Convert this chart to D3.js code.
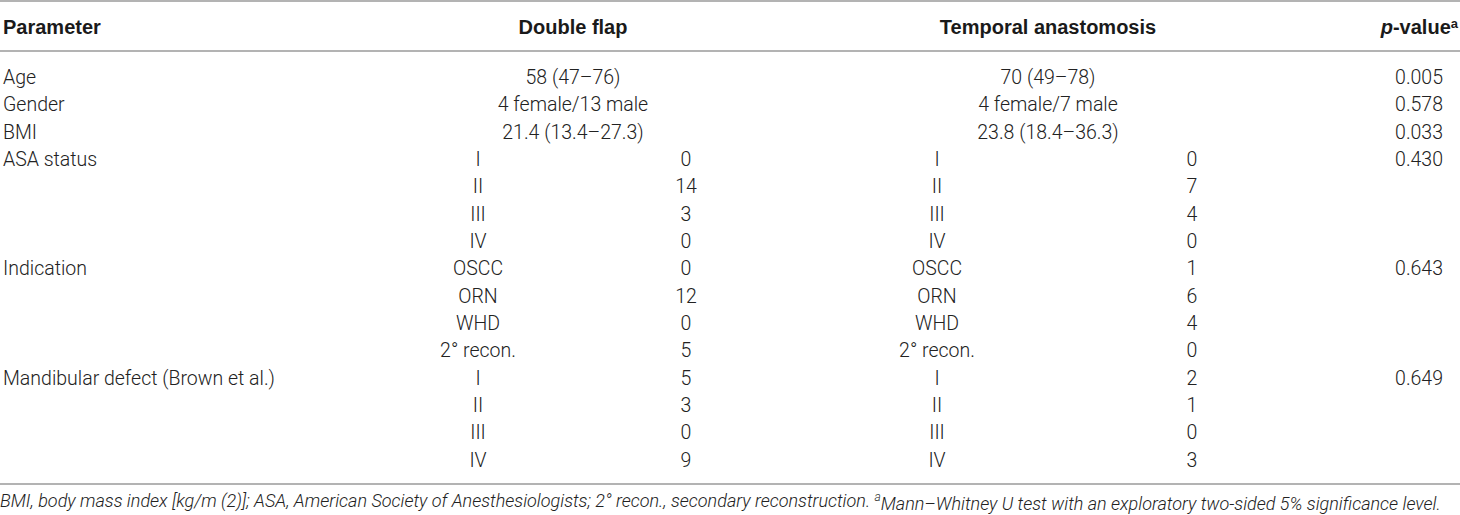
<!DOCTYPE html>
<html>
<head>
<meta charset="utf-8">
<script src="https://cdn.jsdelivr.net/npm/d3@7"></script>
<style>
  body { margin: 0; background: #fff; }
  svg { display: block; }
  text { font-family: Roboto, "Liberation Sans", Arial, sans-serif; fill: #222; }
  .head text { font-family: "Liberation Sans", Arial, sans-serif; fill: #1a1a1a; }
</style>
</head>
<body>
<div id="table"></div>
<script>
// table values
var headers = ["Parameter", "Double flap", "Temporal anastomosis"];
var summaryParams = ["Age", "Gender", "BMI"];
var summaryDoubleFlap = ["58 (47–76)", "4 female/13 male", "21.4 (13.4–27.3)"];
var summaryTemporal = ["70 (49–78)", "4 female/7 male", "23.8 (18.4–36.3)"];
var summaryP = ["0.005", "0.578", "0.033"];

var groupParams = ["ASA status", "Indication", "Mandibular defect (Brown et al.)"];
var groupLevels = [
   ["I", "II", "III", "IV"],
   ["OSCC", "ORN", "WHD", "2° recon."],
   ["I", "II", "III", "IV"]
];
var doubleFlapCounts = [[0, 14, 3, 0], [0, 12, 0, 5], [5, 3, 0, 9]];
var temporalCounts = [[0, 7, 4, 0], [1, 6, 4, 0], [2, 1, 0, 3]];
var groupP = ["0.430", "0.643", "0.649"];

var footnoteA = "BMI, body mass index [kg/m (2)]; ASA, American Society of Anesthesiologists; 2° recon., secondary reconstruction. ";
var footnoteB = "Mann–Whitney U test with an exploratory two-sided 5% significance level.";

var width = 1460, height = 515;
var fontSize = 19.5;

// column anchors
var col = {
   param: 3,
   dfMid: 573, dfSub: 478, dfNum: 686,
   taMid: 1048, taSub: 937, taNum: 1192,
   p: 1443
};

//flatten everything into table rows
var rows = [];
summaryParams.forEach(function (p, i) {
   rows.push({param: p, df: summaryDoubleFlap[i], ta: summaryTemporal[i], p: summaryP[i]});
});
groupParams.forEach(function (p, g) {
   groupLevels[g].forEach(function (lvl, k) {
      rows.push({
         param: k === 0 ? p : "",
         dfSub: lvl, dfNum: doubleFlapCounts[g][k],
         taSub: lvl, taNum: temporalCounts[g][k],
         p: k === 0 ? groupP[g] : ""
      });
   });
});

var y = d3.scalePoint()
   .domain(d3.range(rows.length))
   .range([77, 460]);

var svg = d3.select('#table').append('svg')
   .attr('width', width)
   .attr('height', height);

// rules
var rules = [1, 51, 484];
svg.selectAll('line.rule')
   .data(rules)
   .enter()
   .append('line')
   .attr('class', 'rule')
   .attr('x1', 0).attr('x2', width)
   .attr('y1', function (d) { return d; })
   .attr('y2', function (d) { return d; })
   .attr('stroke', '#9a9a9a')
   .attr('stroke-width', 1.5);

// header
var head = svg.append('g')
   .attr('class', 'head')
   .attr('font-size', '20px')
   .attr('font-weight', 'bold');
head.append('text').attr('x', col.param).attr('y', 27).attr('dy', '0.35em').text(headers[0]);
head.append('text').attr('x', col.dfMid).attr('y', 27).attr('dy', '0.35em')
   .attr('text-anchor', 'middle').text(headers[1]);
head.append('text').attr('x', col.taMid).attr('y', 27).attr('dy', '0.35em')
   .attr('text-anchor', 'middle').text(headers[2]);
var ph = head.append('text').attr('x', col.p + 15).attr('y', 27).attr('dy', '0.35em')
   .attr('text-anchor', 'end');
ph.append('tspan').attr('font-style', 'italic').text('p');
ph.append('tspan').text('-value');
ph.append('tspan').attr('font-size', '13px').attr('dy', '-0.5em').text('a');

// body
var body = svg.append('g').attr('font-size', fontSize + 'px').attr('font-weight', 300);
var row = body.selectAll('g.row')
   .data(rows)
   .enter()
   .append('g')
   .attr('class', 'row')
   .attr('transform', function (d, i) { return 'translate(0,' + y(i) + ')'; });

function cell(key, x, anchor) {
   row.filter(function (d) { return d[key] !== undefined && d[key] !== ""; })
      .append('text')
      .attr('x', x)
      .attr('dy', '0.35em')
      .attr('text-anchor', anchor)
      .text(function (d) { return d[key]; });
}
cell('param', col.param, 'start');
cell('df', col.dfMid, 'middle');
cell('ta', col.taMid, 'middle');
cell('dfSub', col.dfSub, 'middle');
cell('dfNum', col.dfNum, 'middle');
cell('taSub', col.taSub, 'middle');
cell('taNum', col.taNum, 'middle');
cell('p', col.p, 'end');

// footnote
var foot = svg.append('text')
   .attr('x', 0).attr('y', 501).attr('dy', '0.35em')
   .attr('font-size', '18px')
   .attr('font-weight', 300)
   .attr('font-style', 'italic');
foot.append('tspan').text(footnoteA);
foot.append('tspan').attr('font-size', '12px').attr('dy', '-0.5em').text('a');
foot.append('tspan').attr('dy', '0.5em').text(footnoteB);
</script>
</body>
</html>
